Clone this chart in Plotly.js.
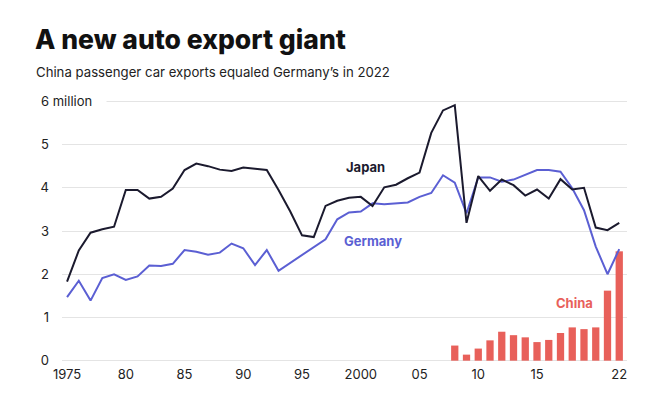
<!DOCTYPE html>
<html><head><meta charset="utf-8">
<script src="https://cdn.plot.ly/plotly-3.0.1.min.js"></script>
<style>html,body{margin:0;padding:0;background:#fff}#chart{width:654px;height:398px}</style>
</head><body><div id="chart"></div>
<script>
const years = [];
for (let y = 1975; y <= 2022; y++) years.push(y);

const japan = [1.83,2.55,2.96,3.04,3.10,3.95,3.95,3.75,3.79,3.98,
               4.41,4.56,4.50,4.42,4.39,4.47,4.44,4.41,3.95,3.45,
               2.90,2.86,3.58,3.70,3.77,3.79,3.58,4.01,4.07,4.22,
               4.35,5.27,5.79,5.91,3.19,4.27,3.93,4.19,4.06,3.82,
               3.96,3.75,4.20,3.96,4.00,3.08,3.02,3.19];
const germany = [1.47,1.85,1.39,1.91,2.00,1.87,1.95,2.20,2.19,2.24,
                 2.56,2.52,2.45,2.50,2.71,2.60,2.21,2.56,2.08,2.26,
                 2.45,2.63,2.81,3.27,3.43,3.45,3.64,3.62,3.64,3.66,
                 3.79,3.88,4.29,4.12,3.41,4.24,4.24,4.14,4.19,4.30,
                 4.41,4.41,4.37,3.99,3.48,2.64,2.00,2.58];
const chinaYears = [2008,2009,2010,2011,2012,2013,2014,2015,2016,2017,2018,2019,2020,2021,2022];
const china = [0.35,0.14,0.28,0.47,0.67,0.59,0.54,0.43,0.48,0.64,0.77,0.73,0.77,1.62,2.53];

const xTickVals = [1975,1980,1985,1990,1995,2000,2005,2010,2015,2022];
const xTickText = ['1975','80','85','90','95','2000','05','10','15','22'];
const yTickVals = [0,1,2,3,4,5,6];
const yTickText = ['0','1','2','3','4','5',''];

const FONT = 'Inter, "Noto Sans", sans-serif';

const traces = [
  {type:'bar', x: chinaYears, y: china, marker:{color:'#e8605a'}, hoverinfo:'skip'},
  {type:'scatter', mode:'lines', x: years, y: germany, line:{color:'#5b5fd3', width:2}},
  {type:'scatter', mode:'lines', x: years, y: japan, line:{color:'#1b1a2e', width:2}}
];

const layout = {
  width:654, height:398,
  margin:{l:62, r:27, t:97, b:33},
  paper_bgcolor:'#fff', plot_bgcolor:'#fff',
  showlegend:false,
  bargap:0.38,
  font:{family:FONT, size:13, color:'#222'},
  title:{text:'A new auto export giant', font:{family:FONT, size:26.5, weight:800, color:'#111'},
         x:35/654, xanchor:'left', xref:'container', y:1-40/398, yanchor:'middle', yref:'container'},
  xaxis:{range:[1974.57,2022.66], tickvals:xTickVals, ticktext:xTickText, showgrid:false,
         zeroline:false, showline:false, ticks:'', tickfont:{size:13, color:'#222'}, fixedrange:true},
  yaxis:{range:[-0.1,6.1], tickvals:yTickVals, ticktext:yTickText, showgrid:true, gridcolor:'#e4e4e4',
         gridwidth:1, zeroline:false, showline:false, ticks:'', ticklabelstandoff:12,
         tickfont:{size:13, color:'#222'}, fixedrange:true},
  annotations:[
    {text:'China passenger car exports equaled Germany\u2019s in 2022', xref:'paper', yref:'paper',
     x:(34-62)/565, y:(365.3-72)/268.7, xanchor:'left', yanchor:'middle', showarrow:false,
     font:{family:FONT, size:13.2, color:'#222'}},
    {text:'6 million', xref:'paper', yref:'y', x:(39-62)/565, y:6, xanchor:'left', yanchor:'middle',
     showarrow:false, bgcolor:'#fff', width:64, align:'left', borderpad:1,
     font:{family:FONT, size:13, color:'#222'}},
    {text:'<b>Japan</b>', x:2000.4, y:4.48, xref:'x', yref:'y', showarrow:false,
     font:{family:FONT, size:13, color:'#1b1a2e'}},
    {text:'<b>Germany</b>', x:2001.0, y:2.77, xref:'x', yref:'y', showarrow:false,
     font:{family:FONT, size:13, color:'#5b5fd3'}},
    {text:'<b>China</b>', x:2018.2, y:1.34, xref:'x', yref:'y', showarrow:false,
     font:{family:FONT, size:13, color:'#e8605a'}}
  ]
};

Plotly.newPlot('chart', traces, layout, {displayModeBar:false, staticPlot:true});
</script></body></html>
